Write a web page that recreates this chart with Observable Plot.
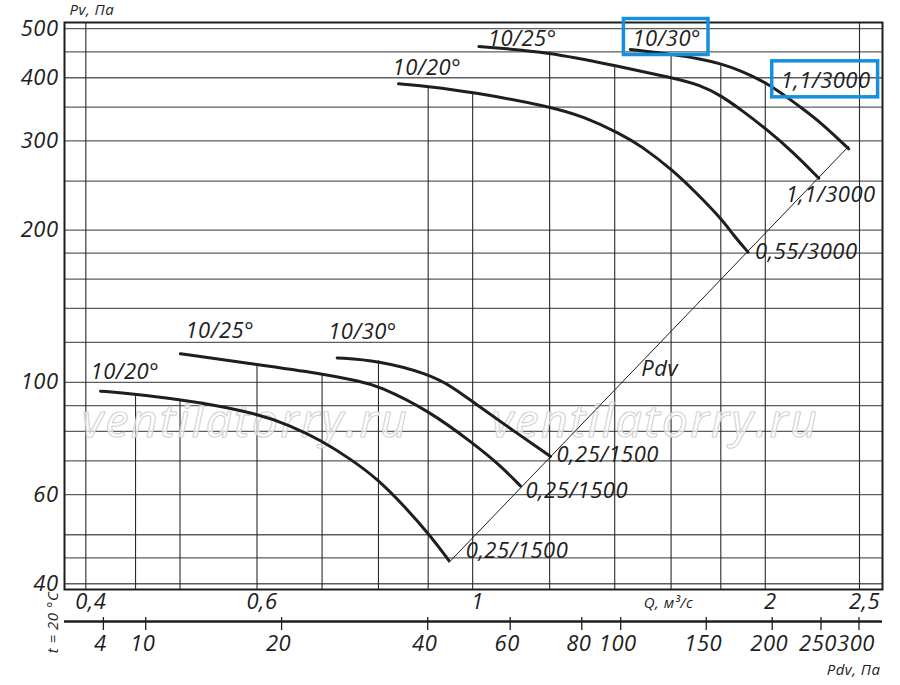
<!DOCTYPE html>
<html><head><meta charset="utf-8">
<script src="https://cdn.jsdelivr.net/npm/d3@7"></script>
<script src="https://cdn.jsdelivr.net/npm/@observablehq/plot@0.6"></script>
<style>
html,body{margin:0;padding:0;background:#fff;}
svg text{letter-spacing:0.5px;}
</style></head><body><div id="chart"></div>
<script>
// ---- grid / tick values ----
const qGrid = [0.4,0.45,0.5,0.6,0.7,0.8,0.9,1,1.2,1.4,1.6,1.8,2,2.5];
const pvGrid = [40,45,50,60,70,80,90,100,120,140,160,180,200,250,300,350,400,450,500];
const pvTickLabels = [40,60,100,200,300,400,500];
const qTickLabels = [0.4,0.6,1,2,2.5];
const pdvTickLabels = [4,10,20,40,60,80,100,150,200,250,300];
const pdvTickQ = [0.417,0.461,0.636,0.899,1.093,1.295,1.420,1.739,2.033,2.282,2.497];

// ---- fan curves ----
const curveIds = ["u20","u25","u30","l20","l25","l30"];
const curveAngles = ["10/20°","10/25°","10/30°","10/20°","10/25°","10/30°"];
const curveMotors = ["0,55/3000","1,1/3000","1,1/3000","0,25/1500","0,25/1500","0,25/1500"];

const qU20 = [0.839,0.901,1.0,1.2,1.3,1.419,1.488,1.608,1.702,1.802,1.856,1.920];
const pvU20 = [389,384.5,374.6,351,335.3,310,294,262.3,235.9,210.6,195.1,180.9];
const qU25 = [1.015,1.202,1.397,1.607,1.716,1.800,1.899,2.001,2.133,2.270];
const pvU25 = [461,449.4,423,399.9,387,369,343.1,317.6,285.9,253.3];
const qU30 = [1.453,1.607,1.716,1.802,1.886,2.001,2.106,2.174,2.279,2.437];
const pvU30 = [454.9,444.6,436,426.2,413.4,392,366.1,349.9,326.9,289.5];
const qL20 = [0.4142,0.4491,0.5005,0.533,0.6003,0.6495,0.6985,0.7485,0.7978,0.8494,0.9013,0.945];
const pvL20 = [96.1,94.9,92.4,90.7,86.7,82.2,76.8,70.6,64.5,57.1,50.2,44.5];
const qL25 = [0.5005,0.6003,0.6973,0.7665,0.7978,0.9013,1.0026,1.068,1.120];
const pvL25 = [113.9,108.5,104.2,100.5,98.6,88.0,75.6,68.5,62.4];
const qL30 = [0.7255,0.7978,0.9013,0.9562,1.0026,1.0937,1.2024];
const pvL30 = [111.8,110.5,104.0,97.6,91.2,81.0,71.4];

const PDV_K = 49.3; // Pdv = K * Q^2

// ---- layout ----
const W = 900, H = 685;
const M = {left: 64, top: 22, right: 18, bottom: 96};
const X_DOMAIN = [0.3803, 2.640];
const Y_DOMAIN = [38.97, 514.3];
const startOffsets = [[-6,-16],[9,-8],[2,-11],[-10,-19],[5,-23],[-9,-26]];
const endOffsets = [[7,0],[-33,17],[-68,-68],[17,-9],[5,5],[6,-1]];
const BOXED_CURVE = 2;
const WATERMARK = "ventilatorry.ru";
const FONT = "'Open Sans', 'Liberation Sans', sans-serif";
const INK = "#1e1e1e";

const qs = [qU20,qU25,qU30,qL20,qL25,qL30];
const pvs = [pvU20,pvU25,pvU30,pvL20,pvL25,pvL30];
const curves = curveIds.map((id,i)=>({id, angle: curveAngles[i], motor: curveMotors[i], q: qs[i], pv: pvs[i]}));
const points = curves.flatMap(c => c.q.map((q,j)=>({id: c.id, q, pv: c.pv[j]})));

function topAt(q){
  let best = null;
  for (const c of curves){
    const n = c.q.length;
    if (q < c.q[0] || q > c.q[n-1]) continue;
    for (let j=0;j<n-1;j++){
      if (q >= c.q[j] && q <= c.q[j+1]){
        const t = (Math.log(q)-Math.log(c.q[j]))/(Math.log(c.q[j+1])-Math.log(c.q[j]));
        const v = Math.exp(Math.log(c.pv[j]) + t*(Math.log(c.pv[j+1])-Math.log(c.pv[j])));
        if (best === null || v > best) best = v;
        break;
      }
    }
  }
  return best === null ? Y_DOMAIN[1] : best;
}

const endQs = curves.map(c=>c.q[c.q.length-1]);
const pdvLine = [d3.min(endQs), d3.max(endQs)].map(q=>({q, pv: PDV_K*q*q}));
const pdvMid = (()=>{const q=Math.sqrt(pdvLine[0].q*pdvLine[1].q); return {q, pv: PDV_K*q*q};})();
const pdvMap = new Map(pdvTickQ.map((q,i)=>[q, String(pdvTickLabels[i])]));

const labelMarks = [];
curves.forEach((c,i)=>{
  labelMarks.push(Plot.text([c], {x: d=>d.q[0], y: d=>d.pv[0], text: "angle",
    dx: startOffsets[i][0], dy: startOffsets[i][1], textAnchor: "start", lineAnchor: "middle",
    fontSize: 22, fontStyle: "italic", fill: INK}));
  labelMarks.push(Plot.text([c], {x: d=>d.q[d.q.length-1], y: d=>d.pv[d.pv.length-1], text: "motor",
    dx: endOffsets[i][0], dy: endOffsets[i][1], textAnchor: "start", lineAnchor: "middle",
    fontSize: 22, fontStyle: "italic", fill: INK}));
});

const wm = {fontSize: 46, fontStyle: "italic", textAnchor: "middle", lineAnchor: "middle",
  fill: "white", fillOpacity: 0.6, stroke: "#c2c2c2", strokeWidth: 1.2};
const note = {fontSize: 15, fontStyle: "italic", fill: INK, lineAnchor: "middle"};

const svg = Plot.plot({
  width: W, height: H,
  marginLeft: M.left, marginTop: M.top, marginRight: M.right, marginBottom: M.bottom,
  style: {fontFamily: FONT, fontSize: "22px", color: INK, background: "white"},
  x: {type: "log", domain: X_DOMAIN},
  y: {type: "log", domain: Y_DOMAIN},
  marks: [
    Plot.ruleY(pvGrid, {stroke: "#5e5e5e", strokeWidth: 1.3}),
    Plot.ruleX(qGrid, {x: d=>d, y1: Y_DOMAIN[0], y2: d=>topAt(d), stroke: "#2a2a2a", strokeWidth: 1.1}),
    Plot.text([WATERMARK], {frameAnchor: "left", dx: 181, dy: 116, ...wm}),
    Plot.text([WATERMARK], {frameAnchor: "right", dx: -227, dy: 116, ...wm}),
    Plot.line(pdvLine, {x: "q", y: "pv", stroke: INK, strokeWidth: 1}),
    Plot.line(points, {x: "q", y: "pv", z: "id", curve: "basis", stroke: INK, strokeWidth: 3}),
    Plot.frame({stroke: INK, strokeWidth: 2}),
    Plot.text([pdvMid], {x: "q", y: "pv", text: ()=>"Pdv", dx: 11, dy: 14, fontSize: 22, fontStyle: "italic", fill: INK}),
    ...labelMarks,
    Plot.axisY(pvTickLabels, {anchor: "left", tickSize: 0, tickPadding: 6, fontSize: 22, fontStyle: "italic",
      tickFormat: d=>String(d), label: null, fill: INK}),
    Plot.axisX(qTickLabels, {anchor: "bottom", tickSize: 0, tickPadding: 4, dx: 5, fontSize: 22, fontStyle: "italic",
      tickFormat: d=>String(d).replace(".", ","), label: null, fill: INK}),
    Plot.ruleY([Y_DOMAIN[0]], {dy: 32, stroke: INK, strokeWidth: 2.5}),
    Plot.axisX(pdvTickQ, {anchor: "bottom", tickSize: 13, dy: 28, fill: "none", stroke: INK, strokeWidth: 1.3, label: null}),
    Plot.axisX(pdvTickQ, {anchor: "bottom", tickSize: 0, tickPadding: 5, dy: 41, dx: -3, fontSize: 22, fontStyle: "italic",
      tickFormat: d=>pdvMap.get(d), label: null, fill: INK}),
    Plot.text(["Pv, Па"], {frameAnchor: "top-left", dx: 5, dy: -12, textAnchor: "start", ...note}),
    Plot.text(["Q, м³/с"], {frameAnchor: "bottom-right", dx: -214, dy: 14, textAnchor: "middle", ...note}),
    Plot.text(["Pdv, Па"], {frameAnchor: "bottom-right", dx: -2, dy: 81, textAnchor: "end", ...note}),
    Plot.text(["t = 20 °C"], {frameAnchor: "bottom-left", dx: -11, dy: 33, rotate: -90, textAnchor: "middle", ...note})
  ]
});
document.getElementById("chart").append(svg);

// wider tracking for the watermark
svg.querySelectorAll("text").forEach(t=>{ if (t.textContent === WATERMARK) t.style.letterSpacing = "2.5px"; });

// blue highlight boxes around the labels of the marked curve (topmost occurrence)
const sb = svg.getBoundingClientRect();
function boxTopmost(str){
  const ts = [...svg.querySelectorAll("text")].filter(t=>t.textContent === str);
  if (!ts.length) return;
  const t = ts.reduce((a,b)=> a.getBoundingClientRect().y <= b.getBoundingClientRect().y ? a : b);
  const b = t.getBoundingClientRect();
  const r = document.createElementNS("http://www.w3.org/2000/svg", "rect");
  r.setAttribute("x", b.x - sb.x - 9);
  r.setAttribute("y", b.y - sb.y - 3);
  r.setAttribute("width", b.width + 16);
  r.setAttribute("height", b.height + 6);
  r.setAttribute("fill", "none");
  r.setAttribute("stroke", "#1690dc");
  r.setAttribute("stroke-width", 3.5);
  svg.appendChild(r);
}
boxTopmost(curves[BOXED_CURVE].angle);
boxTopmost(curves[BOXED_CURVE].motor);
</script></body></html>
